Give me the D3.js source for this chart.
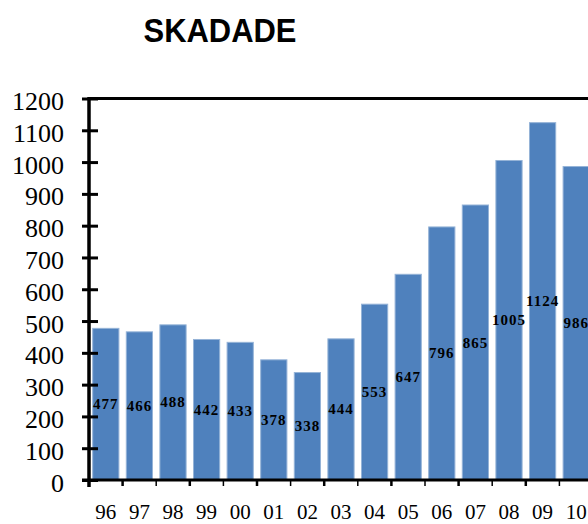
<!DOCTYPE html>
<html><head><meta charset="utf-8">
<script src="https://cdn.jsdelivr.net/npm/d3@7"></script>
<style>body{margin:0;background:#fff}svg{display:block}</style>
</head><body>
<script>
const categories = ["96","97","98","99","00","01","02","03","04","05","06","07","08","09","10"];
const values = [477,466,488,442,433,378,338,444,553,647,796,865,1005,1124,986];
const yTicks = [0,100,200,300,400,500,600,700,800,900,1000,1100,1200];
const title = "SKADADE";

const SERIF = "'Liberation Serif', 'Times New Roman', serif";
const W = 588, H = 524;
const svg = d3.select("body").append("svg").attr("width", W).attr("height", H);

const x0 = 89, step = 33.6;
const x = d3.scaleBand().domain(categories).range([x0, x0 + step * categories.length]).paddingInner(0.22).paddingOuter(0.11);
const y = d3.scaleLinear().domain([0, 1200]).range([480, 98.5]);

// title
svg.append("text").attr("x", 220).attr("y", 41.5).attr("text-anchor", "middle")
  .attr("font-family", "'Liberation Sans', Arial, sans-serif").attr("font-weight", "bold")
  .attr("font-size", 32.5).attr("textLength", 153).attr("lengthAdjust", "spacingAndGlyphs")
  .text(title);

// bars
svg.append("g").selectAll("rect").data(values).join("rect")
  .attr("x", (d, i) => x(categories[i]))
  .attr("y", d => y(d))
  .attr("width", x.bandwidth())
  .attr("height", d => y(0) - y(d))
  .attr("fill", "#4F81BD")
  .attr("stroke", "#95B3D7").attr("stroke-width", 1);

// value labels
svg.append("g").selectAll("text").data(values).join("text")
  .attr("x", (d, i) => x(categories[i]) + x.bandwidth() / 2)
  .attr("y", d => (y(d) + y(0)) / 2 + 5)
  .attr("text-anchor", "middle")
  .attr("font-family", SERIF)
  .attr("font-weight", "bold").attr("font-size", 15).attr("letter-spacing", 1)
  .text(d => d);

// top frame line
svg.append("line").attr("x1", x0).attr("x2", W).attr("y1", y(1200)).attr("y2", y(1200))
  .attr("stroke", "#000").attr("stroke-width", 3);

// y axis
const yAxis = d3.axisLeft(y).tickValues(yTicks).tickSize(0).tickPadding(0);
const gy = svg.append("g").attr("transform", `translate(${x0},0)`).call(yAxis);
gy.select(".domain").remove();
gy.selectAll(".tick text").remove();
gy.selectAll(".tick").append("line").attr("x1", -7).attr("x2", 9).attr("stroke", "#000").attr("stroke-width", 3);
gy.selectAll(".tick").append("text").attr("x", -25).attr("y", 11).attr("text-anchor", "end")
  .attr("fill", "#000").attr("font-family", SERIF)
  .attr("font-size", 26).text(d => d);
gy.append("line").attr("x1", 0).attr("x2", 0).attr("y1", y(1200) - 1.5).attr("y2", y(0) + 7)
  .attr("stroke", "#000").attr("stroke-width", 3.5);

// x axis
const gx = svg.append("g").attr("transform", `translate(0,${y(0)})`);
gx.append("line").attr("x1", x0 - 7).attr("x2", W).attr("stroke", "#000").attr("stroke-width", 3);
const bounds = categories.map((c, i) => x0 + step * i);
gx.selectAll("line.t").data(bounds).join("line").attr("class", "t")
  .attr("x1", d => d).attr("x2", d => d).attr("y1", 0).attr("y2", 6)
  .attr("stroke", "#000").attr("stroke-width", (d, i) => i % 2 ? 2.5 : 1.5);
gx.selectAll("text").data(categories).join("text")
  .attr("x", d => x(d) + x.bandwidth() / 2).attr("y", 39)
  .attr("text-anchor", "middle")
  .attr("font-family", SERIF).attr("font-size", 21)
  .text(d => d);
</script>
</body></html>
